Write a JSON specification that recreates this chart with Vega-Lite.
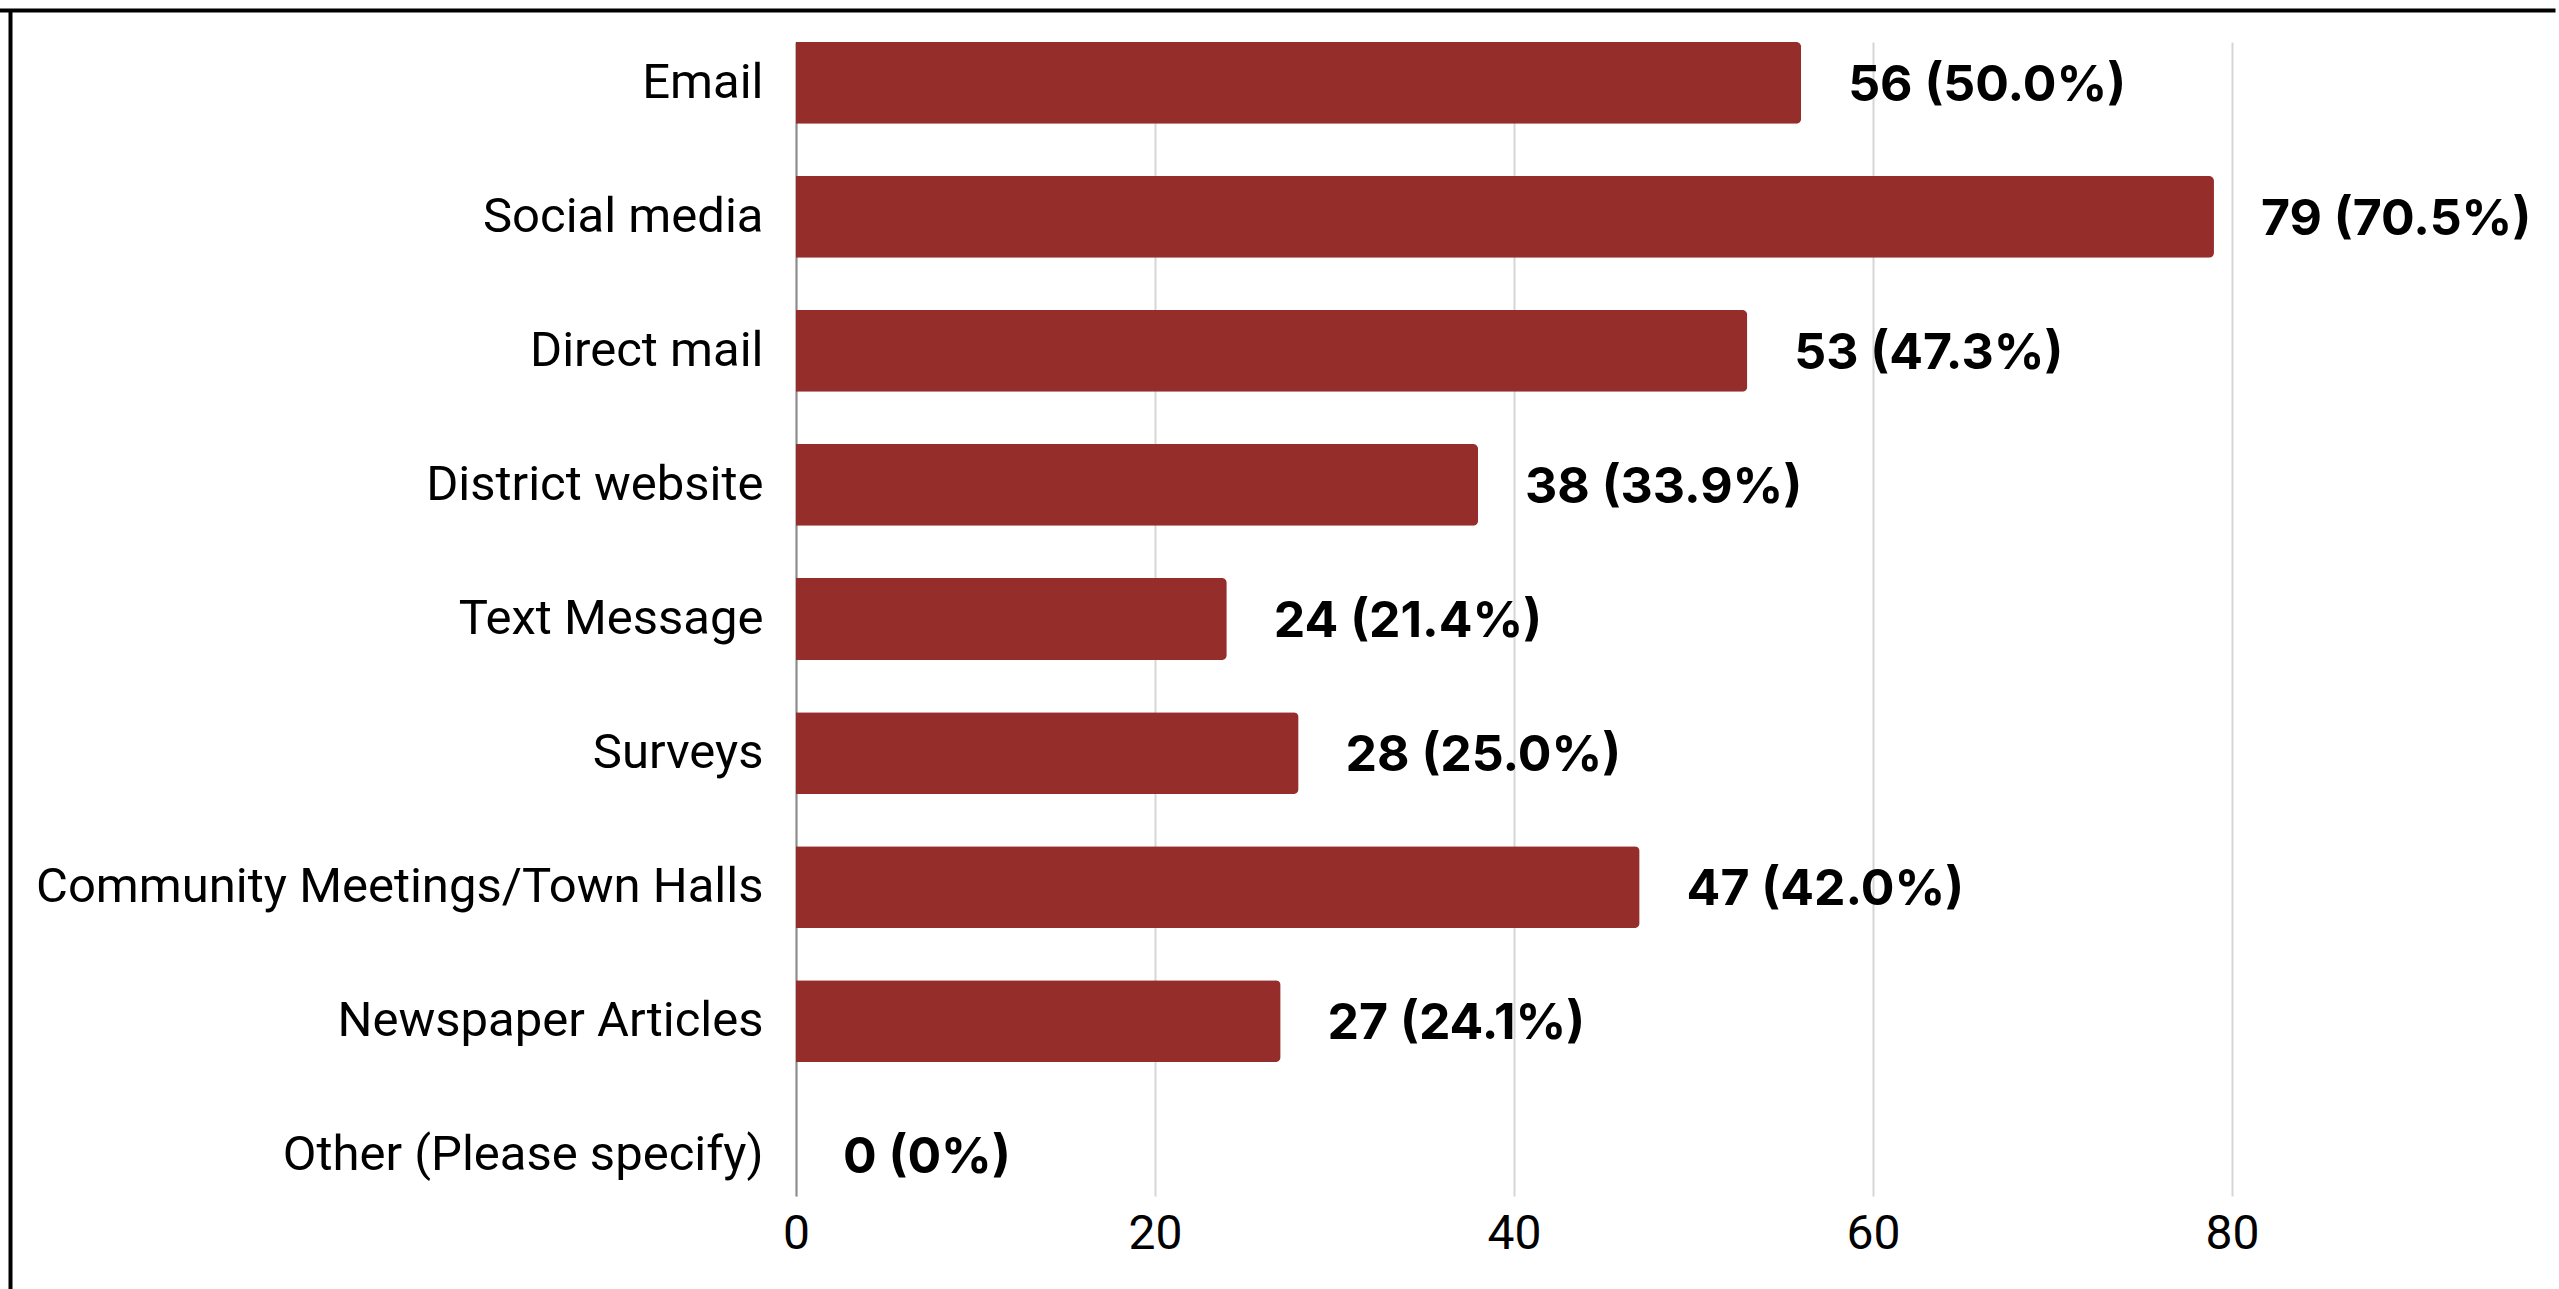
{
  "$schema": "https://vega.github.io/schema/vega-lite/v6.json",
  "autosize": {"type": "none"},
  "padding": {"left": 796, "top": 42, "right": 4, "bottom": 100},
  "width": 1759,
  "height": 1154,
  "background": "white",
  "config": {
    "view": {"stroke": null},
    "axis": {"labelFont": "Roboto", "labelColor": "#000000", "titleFont": "Roboto"}
  },
  "data": {
    "values": [
      {"channel": "Email", "count": 56, "label": "56 (50.0%)"},
      {"channel": "Social media", "count": 79, "label": "79 (70.5%)"},
      {"channel": "Direct mail", "count": 53, "label": "53 (47.3%)"},
      {"channel": "District website", "count": 38, "label": "38 (33.9%)"},
      {"channel": "Text Message", "count": 24, "label": "24 (21.4%)"},
      {"channel": "Surveys", "count": 28, "label": "28 (25.0%)"},
      {"channel": "Community Meetings/Town Halls", "count": 47, "label": "47 (42.0%)"},
      {"channel": "Newspaper Articles", "count": 27, "label": "27 (24.1%)"},
      {"channel": "Other (Please specify)", "count": 0, "label": "0 (0%)"}
    ]
  },
  "resolve": {"axis": {"x": "independent", "y": "independent"}},
  "layer": [
    {
      "mark": {"type": "bar", "color": "#952D2B", "cornerRadiusEnd": 5},
      "encoding": {
        "x": {
          "field": "count", "type": "quantitative",
          "scale": {"domain": [0, 98], "nice": false},
          "axis": {
            "orient": "bottom", "title": null, "values": [0, 20, 40, 60, 80],
            "domain": false, "ticks": false, "grid": true, "gridColor": "#D6D6D6", "gridWidth": 2,
            "labelFontSize": 48, "labelPadding": 14, "labelFlush": false
          }
        },
        "y": {
          "field": "channel", "type": "nominal", "sort": null,
          "scale": {"paddingInner": 0.39, "paddingOuter": 0},
          "axis": {
            "orient": "left", "title": null, "domain": true, "domainColor": "#8C8C8C", "domainWidth": 2,
            "ticks": false, "grid": false, "labelFontSize": 49, "labelPadding": 33, "labelLimit": 0
          }
        }
      }
    },
    {
      "mark": {"type": "text", "align": "left", "baseline": "middle", "dx": 47, "dy": 3, "font": "Inter", "fontSize": 50, "fontWeight": "bold", "color": "#000000"},
      "encoding": {
        "x": {
          "field": "count", "type": "quantitative",
          "axis": {
            "orient": "top", "offset": 32, "title": null, "domain": false, "labels": false, "grid": false,
            "values": [0], "ticks": true, "tickOffset": -786, "tickSize": -1400, "tickWidth": 4, "tickColor": "#000000"
          }
        },
        "y": {
          "field": "channel", "type": "nominal", "sort": null,
          "axis": {
            "orient": "right", "title": null, "domain": false, "labels": false, "grid": false,
            "values": ["Email"], "ticks": true, "tickOffset": -73, "tickSize": -2600, "tickWidth": 4, "tickColor": "#000000"
          }
        },
        "text": {"field": "label"}
      }
    }
  ]
}
